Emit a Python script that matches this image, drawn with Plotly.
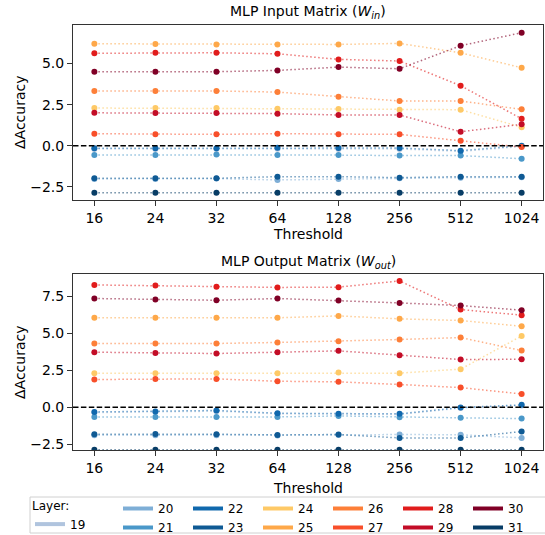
import plotly.graph_objects as go

thresholds = ["16", "24", "32", "64", "128", "256", "512", "1024"]
layers = [19, 20, 21, 22, 23, 24, 25, 26, 27, 28, 29, 30, 31]

layer_colors = ["#b0c4de", "#7eaed6", "#4a98c9", "#1068ad", "#0f5a94",
                "#fec966", "#fea849", "#fd7f38", "#f84f2a", "#e11c1c",
                "#c30d27", "#800026", "#083d66"]

# MLP input matrix (W_in): delta accuracy per layer
in_19 = [-0.20, -0.20, -0.20, -0.18, -0.20, -0.20, -0.35, -0.05]
in_20 = [-2.02, -2.02, -2.00, -2.08, -2.02, -1.98, -1.94, -1.92]
in_21 = [-0.57, -0.57, -0.53, -0.57, -0.57, -0.60, -0.60, -0.79]
in_22 = [-0.16, -0.16, -0.16, -0.12, -0.14, -0.14, -0.30, 0.00]
in_23 = [-1.98, -1.98, -1.98, -1.88, -1.88, -1.94, -1.88, -1.88]
in_24 = [2.29, 2.29, 2.29, 2.25, 2.23, 2.19, 2.19, 1.12]
in_25 = [6.20, 6.18, 6.16, 6.16, 6.16, 6.22, 5.65, 4.74]
in_26 = [3.33, 3.33, 3.33, 3.26, 2.98, 2.72, 2.72, 2.21]
in_27 = [0.73, 0.69, 0.69, 0.73, 0.69, 0.69, 0.30, -0.08]
in_28 = [5.62, 5.65, 5.65, 5.59, 5.25, 5.15, 3.65, 1.64]
in_29 = [2.00, 1.99, 1.99, 1.95, 1.87, 1.87, 0.85, 1.30]
in_30 = [4.50, 4.50, 4.50, 4.58, 4.78, 4.68, 6.08, 6.87]
in_31 = [-2.86, -2.86, -2.86, -2.86, -2.86, -2.86, -2.86, -2.86]

# MLP output matrix (W_out)
out_19 = [-0.36, -0.33, -0.27, -0.45, -0.49, -0.49, -0.06, 0.12]
out_20 = [-1.90, -1.90, -1.90, -1.92, -1.88, -1.85, -1.87, -2.08]
out_21 = [-0.66, -0.66, -0.66, -0.66, -0.59, -0.68, -0.72, -0.77]
out_22 = [-0.32, -0.29, -0.22, -0.41, -0.45, -0.45, -0.02, 0.16]
out_23 = [-1.83, -1.81, -1.83, -1.88, -1.85, -2.08, -2.08, -1.65]
out_24 = [2.31, 2.31, 2.31, 2.31, 2.35, 2.31, 2.58, 4.83]
out_25 = [6.06, 6.06, 6.06, 6.06, 6.19, 5.99, 5.88, 5.49]
out_26 = [4.32, 4.32, 4.32, 4.39, 4.47, 4.59, 4.72, 3.84]
out_27 = [1.88, 1.92, 1.92, 1.76, 1.72, 1.54, 1.33, 0.90]
out_28 = [8.29, 8.25, 8.16, 8.12, 8.14, 8.56, 6.62, 6.24]
out_29 = [3.73, 3.68, 3.64, 3.73, 3.82, 3.53, 3.23, 3.25]
out_30 = [7.37, 7.30, 7.25, 7.37, 7.23, 7.07, 6.89, 6.58]
out_31 = [-2.88, -2.88, -2.88, -2.88, -2.88, -2.88, -2.88, -2.88]

in_series = [in_19, in_20, in_21, in_22, in_23, in_24, in_25, in_26,
             in_27, in_28, in_29, in_30, in_31]
out_series = [out_19, out_20, out_21, out_22, out_23, out_24, out_25, out_26,
              out_27, out_28, out_29, out_30, out_31]

FONT = "DejaVu Sans"
W, H = 545, 535
L, R, T, B = 73, 2, 25, 85
PW, PH = W - L - R, H - T - B


def px_x(px):
    return (px - L) / PW


def px_y(py):
    return (H - B - py) / PH


def rgba(hexc, a):
    h = hexc.lstrip("#")
    return "rgba(%d,%d,%d,%.2f)" % (int(h[0:2], 16), int(h[2:4], 16), int(h[4:6], 16), a)


fig = go.Figure()

for axis_suffix, series in (("", in_series), ("2", out_series)):
    for lay, col, vals in zip(layers, layer_colors, series):
        fig.add_trace(go.Scatter(
            x=thresholds, y=vals, mode="lines+markers",
            line=dict(color=rgba(col, 0.6), width=1.5, dash="1.5px,2.5px"),
            marker=dict(color=col, size=6, line=dict(width=0)),
            showlegend=False, name=str(lay),
            xaxis="x" + axis_suffix, yaxis="y" + axis_suffix,
        ))

# legend entries (thick solid handles)
order1 = [19]
order2 = [20, 22, 24, 26, 28, 30, 21, 23, 25, 27, 29, 31]
for lay in order1:
    fig.add_trace(go.Scatter(x=[None], y=[None], mode="lines", name=str(lay),
                             line=dict(color=layer_colors[layers.index(lay)], width=4),
                             legend="legend", showlegend=True))
for lay in order2:
    fig.add_trace(go.Scatter(x=[None], y=[None], mode="lines", name=str(lay),
                             line=dict(color=layer_colors[layers.index(lay)], width=4),
                             legend="legend2", showlegend=True))

axis_common = dict(showline=True, linecolor="#333", linewidth=1, mirror=True,
                   ticks="outside", ticklen=5, tickwidth=1, tickcolor="#333",
                   showgrid=False, zeroline=False,
                   tickfont=dict(family=FONT, size=14, color="black"))

top_dom = [px_y(200), 1.0]
bot_dom = [0.0, px_y(274)]

fig.update_layout(
    width=W, height=H,
    margin=dict(l=L, r=R, t=T, b=B, autoexpand=False),
    plot_bgcolor="white", paper_bgcolor="white",
    font=dict(family=FONT, size=14, color="black"),
    xaxis=dict(axis_common, type="category", range=[-0.35, 7.35], domain=[0, 1], anchor="y"),
    yaxis=dict(axis_common, range=[-3.30, 7.34], domain=top_dom, tickvals=[-2.5, 0, 2.5, 5.0],
               tickformat=".1f", anchor="x"),
    xaxis2=dict(axis_common, type="category", range=[-0.35, 7.35], domain=[0, 1], anchor="y2"),
    yaxis2=dict(axis_common, range=[-2.90, 9.03], domain=bot_dom, tickvals=[-2.5, 0, 2.5, 5.0, 7.5],
                tickformat=".1f", anchor="x2"),
    legend=dict(orientation="v", x=px_x(30), y=px_y(494), xanchor="left", yanchor="top",
                bgcolor="rgba(0,0,0,0)", borderwidth=0,
                title=dict(text="Layer:", side="top", font=dict(family=FONT, size=12)),
                font=dict(family=FONT, size=12), tracegroupgap=0),
    legend2=dict(orientation="h", x=px_x(118), y=px_y(494), xanchor="left", yanchor="top",
                 bgcolor="rgba(0,0,0,0)", borderwidth=0, entrywidth=25,
                 font=dict(family=FONT, size=12)),
)

# zero reference lines
for yref, xref in (("y", "x domain"), ("y2", "x2 domain")):
    fig.add_shape(type="line", xref=xref, yref=yref, x0=0, x1=1, y0=0, y1=0,
                  line=dict(color="black", width=1.5, dash="5.5px,2.4px"), layer="above")

# legend frame
fig.add_shape(type="rect", xref="paper", yref="paper",
              x0=px_x(30), x1=px_x(549), y0=px_y(533), y1=px_y(497),
              line=dict(color="#d0d0d0", width=1), fillcolor="rgba(0,0,0,0)")

ann = [
    dict(text="MLP Input Matrix (<i>W</i><sub><i>in</i></sub>)", x=0.5, y=px_y(12)),
    dict(text="MLP Output Matrix (<i>W</i><sub><i>out</i></sub>)", x=0.5, y=px_y(262)),
    dict(text="Threshold", x=0.5, y=px_y(234)),
    dict(text="Threshold", x=0.5, y=px_y(488)),
]
for a in ann:
    fig.add_annotation(xref="paper", yref="paper", showarrow=False, xanchor="center",
                       yanchor="middle", font=dict(family=FONT, size=14, color="black"), **a)
for yc in (112, 362):
    fig.add_annotation(xref="paper", yref="paper", showarrow=False, text="ΔAccuracy",
                       textangle=-90, x=px_x(20), y=px_y(yc), xanchor="center", yanchor="middle",
                       font=dict(family=FONT, size=14, color="black"))

fig.write_html("out.html", config={"displayModeBar": False},
               post_script="document.body.style.margin='0';document.body.style.padding='0';")
